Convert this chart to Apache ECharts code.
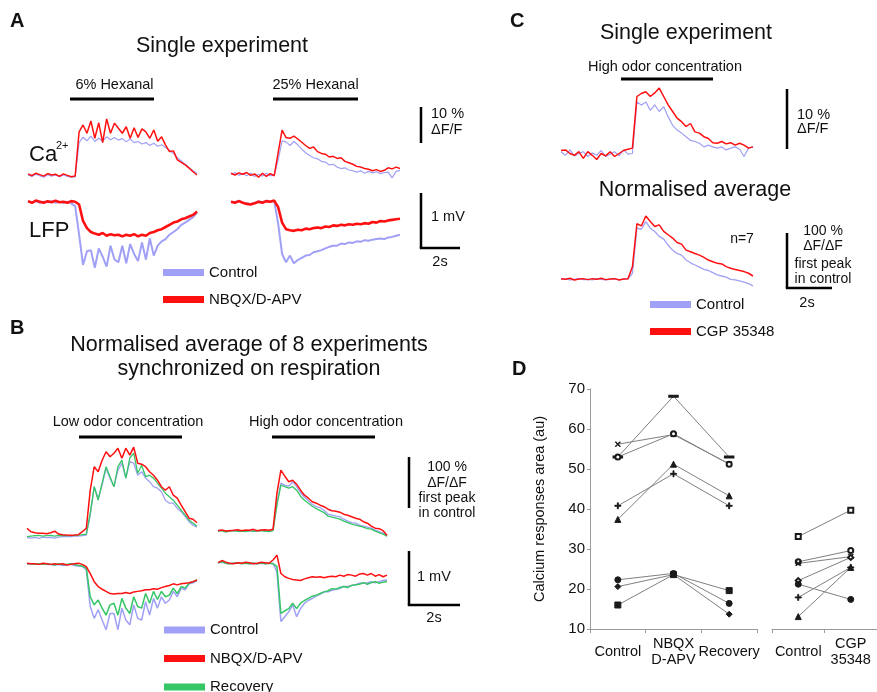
<!DOCTYPE html>
<html>
<head>
<meta charset="utf-8">
<script src="https://cdn.jsdelivr.net/npm/echarts@6/dist/echarts.min.js"></script>
<style>
  html, body { margin: 0; padding: 0; background: #fff; }
  #main { width: 877px; height: 692px; }
</style>
</head>
<body>
<div id="main"></div>
<script>
// ---- panel A, single experiment (Ca in % dF/F, LFP in mV) ----
const aCaLeftControl = [0.0,-0.4,0.2,-0.2,-0.6,0.1,-0.3,0.0,-0.5,0.0,-0.4,-0.6,-0.5,9.0,10.5,9.5,10.8,9.3,10.2,9.4,10.6,9.8,10.4,9.7,10.1,9.2,10.0,9.0,9.3,8.6,9.0,8.2,8.8,8.0,8.4,7.6,6.8,6.0,4.8,3.9,3.0,2.0,1.2,0.5];
const aCaLeftNbqx = [0.3,-0.2,0.5,0.1,-0.3,0.4,0.0,0.2,-0.4,0.3,-0.1,-0.5,-0.3,12.0,13.9,11.6,15.0,10.2,14.5,9.0,15.6,11.6,14.4,13.0,11.6,13.4,10.2,13.1,10.4,12.8,12.0,10.2,12.5,9.4,10.6,8.3,6.5,6.7,4.2,3.5,2.8,1.9,0.9,0.0];
const aLfpLeftControl = [0.0,-0.01,0.01,-0.02,0.0,-0.01,0.01,-0.02,0.0,-0.02,0.0,-0.03,-0.08,-0.6,-1.15,-0.9,-0.88,-1.2,-0.85,-1.0,-1.18,-0.8,-1.05,-1.1,-0.8,-1.12,-0.77,-0.95,-1.08,-0.74,-1.05,-0.67,-0.98,-0.8,-0.72,-0.68,-0.6,-0.55,-0.5,-0.42,-0.38,-0.33,-0.28,-0.2];
const aLfpLeftNbqx = [0.01,-0.02,0.02,0.0,-0.02,0.01,-0.01,0.02,-0.01,0.0,-0.02,0.01,0.0,-0.05,-0.35,-0.48,-0.55,-0.58,-0.6,-0.57,-0.62,-0.59,-0.61,-0.6,-0.63,-0.6,-0.62,-0.59,-0.63,-0.6,-0.62,-0.57,-0.55,-0.52,-0.5,-0.46,-0.42,-0.38,-0.36,-0.32,-0.3,-0.27,-0.24,-0.18];
const aCaRightControl = [0.0,0.5,-0.3,0.2,-0.4,0.3,-0.6,0.0,-0.5,0.3,-0.4,-0.2,4.0,9.3,9.0,8.0,9.1,8.2,7.0,6.0,5.2,4.6,4.3,3.6,3.4,2.6,2.8,2.0,1.6,1.8,1.2,1.0,0.6,1.0,0.3,0.8,0.4,0.7,0.2,0.5,0.6,-1.0,0.8,1.1];
const aCaRightNbqx = [0.3,-0.2,0.4,0.0,0.5,-0.3,0.1,-0.8,0.3,-0.6,0.2,-0.4,6.0,12.3,10.2,10.0,10.6,9.8,8.9,8.0,7.2,7.6,6.3,5.8,5.6,4.8,5.0,4.4,4.6,3.6,3.2,2.8,2.2,2.0,1.6,1.4,1.0,1.3,0.8,1.1,1.8,1.5,2.0,1.6];
const aLfpRightControl = [0.0,-0.01,0.02,-0.02,-0.03,-0.04,-0.02,0.01,-0.01,0.02,0.0,0.01,-0.4,-0.95,-1.1,-0.98,-1.12,-1.06,-1.02,-0.98,-0.97,-0.92,-0.9,-0.88,-0.85,-0.82,-0.8,-0.8,-0.76,-0.77,-0.74,-0.75,-0.72,-0.73,-0.7,-0.71,-0.69,-0.68,-0.67,-0.68,-0.65,-0.64,-0.62,-0.6];
const aLfpRightNbqx = [0.0,-0.02,0.01,-0.02,-0.04,-0.05,-0.03,0.0,-0.02,0.01,0.0,0.02,-0.1,-0.38,-0.5,-0.52,-0.53,-0.51,-0.52,-0.49,-0.5,-0.48,-0.47,-0.48,-0.45,-0.46,-0.43,-0.44,-0.42,-0.43,-0.41,-0.42,-0.4,-0.41,-0.39,-0.4,-0.37,-0.38,-0.35,-0.36,-0.34,-0.33,-0.32,-0.31];

// ---- panel B, normalised average (Ca in % of first control peak, LFP in mV) ----
const bCaLeftControl = [-2,-2.7,-1.3,-3.3,-0.7,-2,-1.3,-2.7,-0.7,0,0.7,0,1.3,1.3,2,3.3,43,100,77,103,137,117,100,133,147,117,150,147,123,130,117,110,100,97,90,73,67,67,57,50,40,30,23,19];
const bCaLeftNbqx = [16.7,10,8,6.7,6.7,6,8,11,5.3,4,3.3,2.7,3.3,4,10,16.7,93,140,130,153,170,160,167,177,157,177,163,179,147,145,140,130,123,113,100,93,100,83,77,63,50,37,35,28];
const bCaLeftRecovery = [0,1.3,2,2.7,1.3,2,2.7,1.3,2.7,2,2.7,2,2.7,3.3,4,5.3,47,100,73,107,140,120,100,140,153,117,157,167,127,143,120,123,117,107,97,87,80,73,63,53,43,33,27,21];
const bLfpLeftControl = [-0.01,-0.02,-0.01,-0.02,-0.01,-0.02,-0.02,-0.03,-0.02,-0.04,-0.03,-0.02,-0.04,-0.05,-0.06,-0.12,-0.8,-1.02,-0.86,-1.05,-1.23,-0.93,-0.93,-1.23,-0.83,-1.05,-1.14,-0.77,-1.02,-1.05,-0.71,-0.96,-0.65,-0.83,-0.62,-0.74,-0.68,-0.52,-0.62,-0.46,-0.49,-0.38,-0.36,-0.32];
const bLfpLeftNbqx = [0,-0.01,-0.01,-0.02,0,-0.01,-0.02,-0.01,-0.02,-0.01,-0.03,-0.02,-0.01,0,-0.02,-0.06,-0.19,-0.34,-0.43,-0.48,-0.52,-0.56,-0.57,-0.56,-0.56,-0.54,-0.56,-0.53,-0.52,-0.51,-0.49,-0.49,-0.47,-0.48,-0.45,-0.43,-0.41,-0.38,-0.4,-0.38,-0.37,-0.36,-0.34,-0.31];
const bLfpLeftRecovery = [-0.01,-0.01,-0.02,-0.01,-0.02,-0.01,-0.02,-0.03,-0.01,-0.02,-0.02,-0.01,-0.02,-0.04,-0.05,-0.09,-0.62,-0.77,-0.68,-0.83,-0.96,-0.77,-0.74,-0.96,-0.65,-0.83,-0.93,-0.62,-0.8,-0.83,-0.56,-0.74,-0.52,-0.67,-0.52,-0.62,-0.59,-0.46,-0.56,-0.43,-0.46,-0.37,-0.34,-0.31];
const bCaRightControl = [1.3,0,-1.3,0.7,-0.7,0,-1.3,0,-0.7,1.3,0,0.7,0,-0.7,1.3,55,95,91,89,98,88,76,67,60,53,48,46,41,33,31,29,28,23,19,16,15,11,9,7,5,1,-2,-5,-11];
const bCaRightNbqx = [0,1.3,-0.7,0,0.7,2,0,1.3,0.7,2.7,0,1.3,2,0.7,2.7,75,121,109,98,101,93,81,71,65,58,55,51,48,43,40,39,37,33,31,28,25,23,18,15,9,5,4,0,-9];
const bCaRightRecovery = [-1.3,0,-2.7,-0.7,0,-1.3,-0.7,-2,0,-1.3,-0.7,0,-1.3,-2,0,51,91,88,85,88,81,69,61,55,49,44,40,36,29,27,25,23,19,16,13,11,9,7,4,3,-1,-4,-7,-11];
const bLfpRightControl = [0,0.01,-0.01,-0.02,-0.01,-0.01,-0.01,0,-0.02,-0.01,-0.02,-0.01,-0.02,-0.01,-0.01,-0.17,-1.09,-1.0,-0.91,-0.78,-1.0,-0.85,-0.75,-0.7,-0.66,-0.62,-0.58,-0.54,-0.54,-0.51,-0.49,-0.48,-0.44,-0.44,-0.42,-0.41,-0.38,-0.38,-0.37,-0.35,-0.37,-0.35,-0.33,-0.32];
const bLfpRightNbqx = [0,0.04,0.01,-0.01,-0.02,0,-0.01,0.01,0,-0.02,-0.01,0.01,0,-0.01,0.05,0.14,-0.2,-0.26,-0.29,-0.31,-0.32,-0.33,-0.3,-0.28,-0.26,-0.27,-0.26,-0.28,-0.26,-0.25,-0.26,-0.23,-0.25,-0.22,-0.23,-0.25,-0.21,-0.2,-0.23,-0.2,-0.25,-0.22,-0.26,-0.23];
const bLfpRightRecovery = [0,0.02,-0.01,-0.02,-0.01,0,-0.02,-0.01,-0.02,-0.01,-0.02,0,-0.02,-0.01,-0.02,-0.07,-0.94,-0.89,-0.85,-0.75,-0.85,-0.75,-0.7,-0.66,-0.62,-0.6,-0.57,-0.54,-0.52,-0.48,-0.49,-0.46,-0.44,-0.46,-0.42,-0.41,-0.4,-0.37,-0.4,-0.37,-0.35,-0.38,-0.36,-0.35];

// ---- panel C, CGP 35348 ----
const cSingleControl = [0,-0.6,0.3,-0.7,-0.3,0,-0.8,-0.2,-0.6,0.2,-0.8,-0.4,0,-0.7,0.3,-0.4,-0.3,8.3,7.8,8.3,6.9,7.8,6.7,7.5,5.8,4.4,3.6,3.1,2.5,1.9,1.7,1.4,0.8,1.1,0.8,0.6,0.8,0.3,0.6,0.8,0.4,-0.8,0.6,0.8];
const cSingleCgp = [0.2,0.3,-0.3,-0.6,0,-1.1,0,-0.6,-1.3,-0.3,-0.7,0,-0.8,-0.3,0.2,0.4,0.6,9.2,9.7,10.0,9.2,9.8,10.6,9.2,7.8,6.7,5.6,5.0,4.2,4.7,3.3,3.1,2.5,2.2,1.5,1.4,1.7,1.3,1.5,1.1,1.4,1.1,0.6,0.8];
const cNormControl = [0,0.6,-1.2,0,1.2,-0.6,0,-1.2,0.6,0,-1.2,0,0.6,-0.6,0,0.6,11,93,91,105,93,87,78,73,62,53,47,44,35,30,26,22,18,16,12,8,6,4,0,-1,-3,-5,-8,-12];
const cNormCgp = [1.2,0,1.8,-1.2,0.6,1.2,-0.6,1.2,0,1.8,-0.6,0.6,1.2,-1.2,0.6,1.2,23,101,97,115,105,96,99,87,81,75,67,64,53,50,47,44,40,35,32,29,28,23,20,18,16,14,11,6];

// ---- panel D, calcium response areas (au) ----
const dCatsNbqx = ['Control', 'NBQX\nD-APV', 'Recovery'];
const dCatsCgp = ['Control', 'CGP\n35348'];
const dExpDash = [53.0, 68.2, 53.0];
const dExpCross = [56.2, 58.6, 51.3];
const dExpRing = [53.0, 58.8, 51.2];
const dExpTriangle = [37.4, 51.2, 43.3];
const dExpPlus = [40.8, 48.8, 40.8];
const dExpDot = [22.3, 23.9, 16.4];
const dExpDiamond = [20.6, 23.6, 13.7];
const dExpSquare = [16.0, 23.6, 19.6];
const cgpExpSquare = [33.1, 39.7];
const cgpExpRing = [26.8, 29.6];
const cgpExpCross = [26.4, 28.1];
const cgpExpDiamond = [22.1, 27.9];
const cgpExpDot = [21.2, 17.4];
const cgpExpPlus = [17.9, 25.4];
const cgpExpTriangle = [13.1, 25.4];
const dTicks = [10, 70, 10]; // min, max, interval

const BLUE = '#a0a0f6';
const RED = '#ff1010';
const GREEN = '#35c666';
const FONT = '"Liberation Sans", Arial, sans-serif';

const chart = echarts.init(document.getElementById('main'));

// trace grids: left, width, baseline pixel, pixels per unit, min, max
const traceBoxes = [
  [28, 169, 175.0, 3.6, -3, 17],        // 0 A Ca left
  [28, 169, 201.7, 55, -1.35, 0.15],    // 1 A LFP left
  [231, 169, 174.3, 3.6, -3, 17],       // 2 A Ca right
  [231, 169, 201.7, 55, -1.35, 0.15],   // 3 A LFP right
  [27, 170, 536.7, 0.5, -20, 190],      // 4 B Ca left
  [27, 170, 563.3, 54, -1.35, 0.15],    // 5 B LFP left
  [218, 169, 530.7, 0.5, -20, 190],     // 6 B Ca right
  [218, 169, 562.7, 54, -1.35, 0.25],   // 7 B LFP right
  [561, 192, 151.7, 6, -3, 12],         // 8 C single
  [561, 192, 279.3, 0.55, -25, 125]     // 9 C normalised
];

const grids = [], xAxes = [], yAxes = [];
const idx = n => Array.from({ length: n }, (_, i) => i);
traceBoxes.forEach((b, i) => {
  grids.push({ left: b[0], width: b[1], top: b[2] - b[5] * b[3], height: (b[5] - b[4]) * b[3] });
  xAxes.push({ gridIndex: i, type: 'category', data: idx(44), boundaryGap: false, show: false });
  yAxes.push({ gridIndex: i, type: 'value', min: b[4], max: b[5], show: false });
});

// panel D grids
grids.push({ left: 590, top: 389, width: 167, height: 240 });
grids.push({ left: 772, top: 389, width: 112, height: 240 });
const axisGrey = { lineStyle: { color: '#9a9a9a', width: 1 } };
const dLabel = { interval: 0, fontSize: 14.5, color: '#111', lineHeight: 16, margin: 23, verticalAlign: 'middle', fontFamily: FONT };
xAxes.push({
  gridIndex: 10, type: 'category', data: dCatsNbqx,
  axisLine: axisGrey, axisTick: { show: true, length: 4, lineStyle: { color: '#9a9a9a' } },
  axisLabel: dLabel
});
xAxes.push({
  gridIndex: 11, type: 'category', data: dCatsCgp,
  axisLine: axisGrey, axisTick: { show: true, length: 4, lineStyle: { color: '#9a9a9a' } },
  axisLabel: dLabel
});
yAxes.push({
  gridIndex: 10, type: 'value', min: dTicks[0], max: dTicks[1], interval: dTicks[2],
  axisLine: { show: true, lineStyle: { color: '#9a9a9a' } },
  axisTick: { show: true, length: 3, lineStyle: { color: '#9a9a9a' } },
  splitLine: { show: false },
  axisLabel: { fontSize: 15, color: '#111', margin: 5, fontFamily: FONT },
  name: 'Calcium responses area (au)', nameLocation: 'middle', nameGap: 43, nameRotate: 90,
  nameTextStyle: { fontSize: 14.5, color: '#111', fontFamily: FONT }
});
yAxes.push({ gridIndex: 11, type: 'value', min: dTicks[0], max: dTicks[1], show: false });

function trace(name, data, gi, color, width) {
  return {
    type: 'line', name: name, data: data, xAxisIndex: gi, yAxisIndex: gi,
    symbol: 'none', silent: true, animation: false,
    lineStyle: { color: color, width: width }, itemStyle: { color: color }
  };
}

const X_SYM = 'path://M1,0L5,4L9,0L10,1L6,5L10,9L9,10L5,6L1,10L0,9L4,5L0,1Z';
const PLUS_SYM = 'path://M4.2,0H5.8V4.2H10V5.8H5.8V10H4.2V5.8H0V4.2H4.2Z';
function expLine(data, gi, symbol, size) {
  return {
    type: 'line', data: data, xAxisIndex: gi, yAxisIndex: gi,
    symbol: symbol, symbolSize: size, showSymbol: true, silent: true, animation: false,
    lineStyle: { color: '#808080', width: 1 },
    itemStyle: { color: '#1a1a1a', borderColor: '#1a1a1a', borderWidth: 1 }
  };
}

const series = [
  trace('Control', aCaLeftControl, 0, BLUE, 1.2),
  trace('NBQX/D-APV', aCaLeftNbqx, 0, RED, 1.5),
  trace('Control', aLfpLeftControl, 1, BLUE, 2),
  trace('NBQX/D-APV', aLfpLeftNbqx, 1, RED, 2.6),
  trace('Control', aCaRightControl, 2, BLUE, 1.2),
  trace('NBQX/D-APV', aCaRightNbqx, 2, RED, 1.5),
  trace('Control', aLfpRightControl, 3, BLUE, 2),
  trace('NBQX/D-APV', aLfpRightNbqx, 3, RED, 2.6),

  trace('Control', bCaLeftControl, 4, BLUE, 1.3),
  trace('Recovery', bCaLeftRecovery, 4, GREEN, 1.3),
  trace('NBQX/D-APV', bCaLeftNbqx, 4, RED, 1.5),
  trace('Control', bLfpLeftControl, 5, BLUE, 1.5),
  trace('Recovery', bLfpLeftRecovery, 5, GREEN, 1.5),
  trace('NBQX/D-APV', bLfpLeftNbqx, 5, RED, 1.5),
  trace('Control', bCaRightControl, 6, BLUE, 1.3),
  trace('Recovery', bCaRightRecovery, 6, GREEN, 1.3),
  trace('NBQX/D-APV', bCaRightNbqx, 6, RED, 1.5),
  trace('Control', bLfpRightControl, 7, BLUE, 1.5),
  trace('Recovery', bLfpRightRecovery, 7, GREEN, 1.5),
  trace('NBQX/D-APV', bLfpRightNbqx, 7, RED, 1.5),

  trace('Control', cSingleControl, 8, BLUE, 1.2),
  trace('CGP 35348', cSingleCgp, 8, RED, 1.5),
  trace('Control', cNormControl, 9, BLUE, 1.3),
  trace('CGP 35348', cNormCgp, 9, RED, 1.5),

  expLine(dExpDash, 10, 'rect', [7, 2]),
  expLine(dExpCross, 10, X_SYM, 5),
  expLine(dExpRing, 10, 'emptyCircle', 5),
  expLine(dExpTriangle, 10, 'triangle', 6),
  expLine(dExpPlus, 10, PLUS_SYM, 6),
  expLine(dExpDot, 10, 'circle', 6),
  expLine(dExpDiamond, 10, 'diamond', 6),
  expLine(dExpSquare, 10, 'rect', 6),
  expLine(cgpExpSquare, 11, 'emptyRect', 5),
  expLine(cgpExpRing, 11, 'emptyCircle', 5),
  expLine(cgpExpCross, 11, X_SYM, 5),
  expLine(cgpExpDiamond, 11, 'emptyDiamond', 5),
  expLine(cgpExpDot, 11, 'circle', 6),
  expLine(cgpExpPlus, 11, PLUS_SYM, 6),
  expLine(cgpExpTriangle, 11, 'triangle', 6)
];

const legendBase = {
  orient: 'vertical', icon: 'rect', itemWidth: 41, itemHeight: 7, selectedMode: false, padding: 0,
  width: 160, height: 100,
  textStyle: { fontSize: 15, color: '#111', lineHeight: 14, fontFamily: FONT }
};

// annotation helpers (titles, letters, scale bars)
function txt(x, y, text, size, align, bold) {
  return {
    type: 'text', x: x, y: y, silent: true,
    style: { text: text, font: (bold ? 'bold ' : '') + size + 'px ' + FONT, fill: '#111', align: align || 'center', verticalAlign: 'middle' }
  };
}
function ln(x1, y1, x2, y2, w) {
  return { type: 'line', silent: true, shape: { x1: x1, y1: y1, x2: x2, y2: y2 }, style: { stroke: '#000', lineWidth: w } };
}

const graphic = [
  // A
  txt(10, 21, 'A', 20, 'left', true),
  txt(222, 46, 'Single experiment', 21.5),
  txt(114.5, 85, '6% Hexanal', 14.5),
  ln(70, 99, 154, 99, 3),
  txt(315.5, 85, '25% Hexanal', 14.5),
  ln(273, 99, 358, 99, 3),
  txt(29, 155, 'Ca', 22, 'left'),
  txt(56, 146, '2+', 11, 'left'),
  txt(29, 231, 'LFP', 22, 'left'),
  ln(421, 107, 421, 143, 2.5),
  txt(431, 114, '10 %', 14.5, 'left'),
  txt(431, 130, 'ΔF/F', 14.5, 'left'),
  ln(421, 193, 421, 248, 2.5),
  ln(419.8, 248, 460, 248, 2.5),
  txt(431, 217, '1 mV', 14.5, 'left'),
  txt(440, 262, '2s', 14.5),
  // B
  txt(10, 328, 'B', 20, 'left', true),
  txt(249, 345, 'Normalised average of 8 experiments', 21.5),
  txt(249, 369, 'synchronized on respiration', 21.5),
  txt(128, 422, 'Low odor concentration', 14.5),
  ln(79, 437, 182, 437, 3),
  txt(326, 422, 'High odor concentration', 14.5),
  ln(272, 437, 375, 437, 3),
  ln(409, 457, 409, 508, 2.5),
  txt(447, 467, '100 %', 14),
  txt(447, 483, 'ΔF/ΔF', 14),
  txt(447, 498, 'first peak', 14),
  txt(447, 513, 'in control', 14),
  ln(409, 551, 409, 605, 2.5),
  ln(407.8, 605, 460, 605, 2.5),
  txt(417, 577, '1 mV', 14.5, 'left'),
  txt(434, 618, '2s', 14.5),
  // C
  txt(510, 21, 'C', 20, 'left', true),
  txt(686, 33, 'Single experiment', 21.5),
  txt(665, 67, 'High odor concentration', 14.5),
  ln(621, 79, 713, 79, 3),
  ln(787, 89, 787, 149, 2.5),
  txt(797, 115, '10 %', 14.5, 'left'),
  txt(797, 129, 'ΔF/F', 14.5, 'left'),
  txt(695, 190, 'Normalised average', 21.5),
  txt(742, 239, 'n=7', 14),
  ln(787, 233, 787, 288, 2.5),
  ln(785.8, 288, 832, 288, 2.5),
  txt(823, 231, '100 %', 14),
  txt(823, 246, 'ΔF/ΔF', 14),
  txt(823, 264, 'first peak', 14),
  txt(823, 279, 'in control', 14),
  txt(807, 303, '2s', 14.5),
  // D
  txt(512, 369, 'D', 20, 'left', true)
];

chart.setOption({
  animation: false,
  backgroundColor: '#fff',
  textStyle: { fontFamily: FONT },
  grid: grids,
  xAxis: xAxes,
  yAxis: yAxes,
  legend: [
    Object.assign({}, legendBase, { data: ['Control', 'NBQX/D-APV'], left: 163, top: 265, itemGap: 12 }),
    Object.assign({}, legendBase, { data: ['Control', 'NBQX/D-APV', 'Recovery'], left: 164, top: 622.5, itemGap: 13.5 }),
    Object.assign({}, legendBase, { data: ['Control', 'CGP 35348'], left: 650, top: 297, itemGap: 12 })
  ],
  graphic: graphic,
  series: series
});
</script>
</body>
</html>
